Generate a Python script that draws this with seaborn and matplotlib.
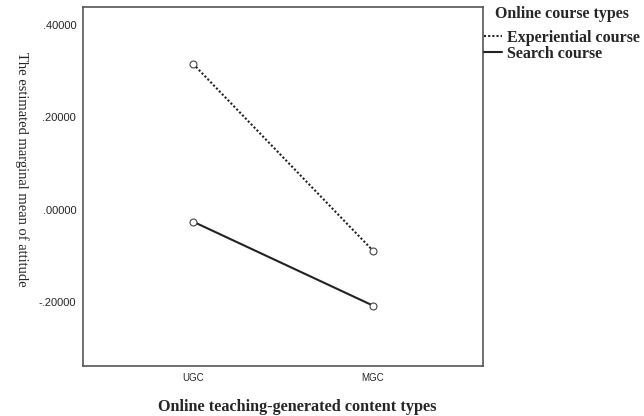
import matplotlib
matplotlib.use("Agg")
import matplotlib.pyplot as plt
import seaborn as sns
import pandas as pd
from matplotlib.lines import Line2D

# DATA
content_types = ["UGC", "MGC"]
experiential_means = [0.316, -0.089]
search_means = [-0.026, -0.208]
course_types = ["Experiential course", "Search course"]
y_ticks = [0.4, 0.2, 0.0, -0.2]
y_tick_labels = [".40000", ".20000", ".00000", "-.20000"]

df = pd.DataFrame({
    "content": content_types * 2,
    "x": [0, 1, 0, 1],
    "mean": experiential_means + search_means,
    "course": [course_types[0]] * 2 + [course_types[1]] * 2,
})

sns.set_style("white")
plt.rcParams["font.family"] = ["Liberation Sans", "DejaVu Sans"]

fig = plt.figure(figsize=(6.44, 4.16), dpi=100)
ax = fig.add_axes([0.129, 0.12, 0.621, 0.863])

sns.lineplot(data=df, x="x", y="mean", hue="course", style="course",
             palette=["#222222", "#222222"],
             dashes={course_types[0]: (1, 1), course_types[1]: ""},
             markers={course_types[0]: "o", course_types[1]: "o"},
             markersize=5, markerfacecolor="white", markeredgecolor="#444444",
             markeredgewidth=0.8, linewidth=1.5, legend=False, ax=ax)

ax.set_xlim(-0.611, 1.611)
ax.set_ylim(-0.339, 0.439)
ax.set_xticks([0, 1])
ax.set_xticklabels(content_types, fontsize=7)
ax.set_yticks(y_ticks)
ax.set_yticklabels(y_tick_labels, fontsize=8)
ax.tick_params(axis="both", direction="out", length=4, width=1, color="#444444", pad=1)

for s in ax.spines.values():
    s.set_color("#555555")
    s.set_linewidth(1.2)

ax.set_xlabel("Online teaching-generated content types", family="Liberation Serif",
              fontsize=11.7, fontweight="bold")
ax.xaxis.set_label_coords(0.535, -0.092)
ax.set_ylabel("The estimated marginal mean of attitude", family="Liberation Serif",
              fontsize=10.5, rotation=270)
ax.yaxis.set_label_coords(-0.17, 0.549)

# legend title kept separate so the gap under it can be set
fig.text(0.769, 1 - 14 / 416, "Online course types", family="Liberation Serif",
         fontsize=11.5, fontweight="bold", va="center", ha="left")

handles = [Line2D([0], [0], color="#222222", linestyle=(0, (1, 1)), linewidth=1.5),
           Line2D([0], [0], color="#222222", linestyle="-", linewidth=1.5)]
leg = fig.legend(handles, course_types,
                 loc="upper left", bbox_to_anchor=(0.752, 1 - 30 / 416), frameon=False,
                 handlelength=1.1, handletextpad=0.3, labelspacing=0.0,
                 prop={"family": "Liberation Serif", "size": 11.5, "weight": "bold"},
                 borderaxespad=0, borderpad=0)

fig.savefig("out.png", dpi=100)
